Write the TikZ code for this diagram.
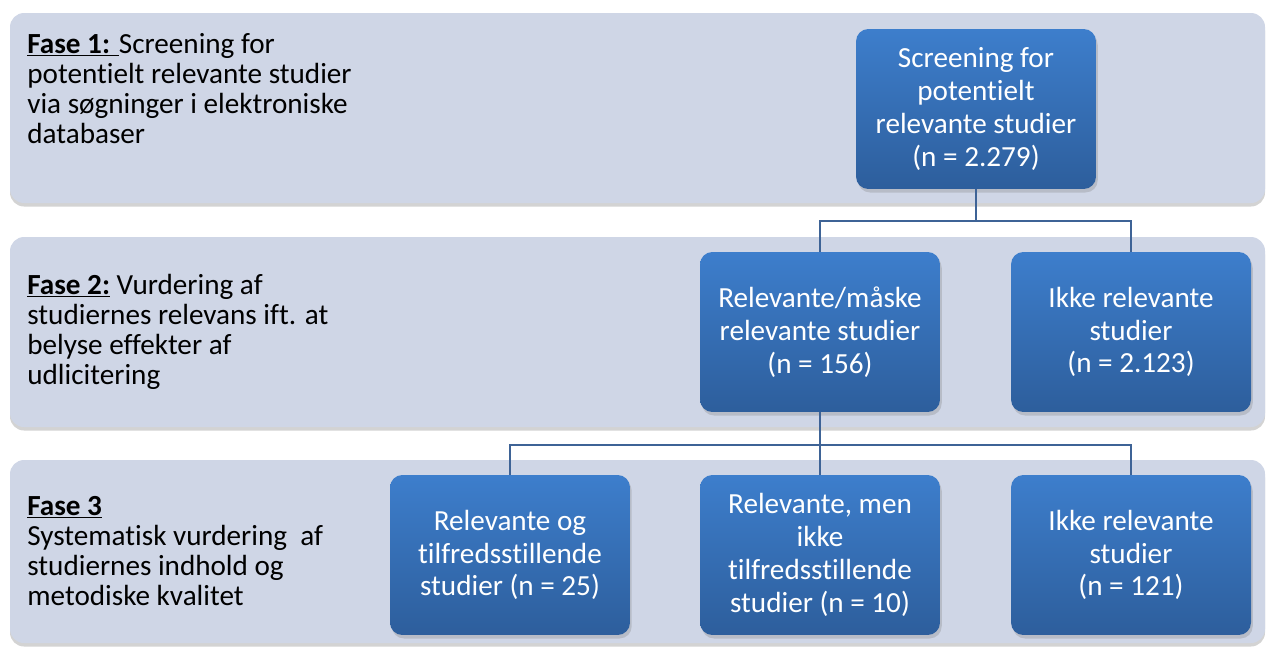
\documentclass[tikz,border=0pt]{standalone}
\usepackage{fontspec}
\setmainfont{Carlito}[Ligatures=NoCommon]
\usepackage{xcolor}
\usepackage{tikz}
\usetikzlibrary{shadows, positioning}
\def\boxw{4.8cm}
\def\boxh{3.2cm}
\definecolor{bandfill}{RGB}{207,214,230}
\definecolor{boxtop}{RGB}{61,126,204}
\definecolor{boxbot}{RGB}{45,94,156}
\definecolor{linkcol}{RGB}{62,99,150}

\begin{document}
\begin{tikzpicture}[x=0.02cm, y=-0.02cm]
    \tikzstyle{band}=[fill=bandfill, rounded corners=8pt, drop shadow={shadow xshift=0pt, shadow yshift=-2pt, opacity=0.35}]
    \tikzstyle{stage}=[rectangle, rounded corners=7pt, top color=boxtop, bottom color=boxbot, text=white, minimum width=\boxw, minimum height=\boxh, inner sep=0pt, align=center, font=\fontsize{16.6}{18.7}\selectfont, drop shadow={shadow xshift=1pt, shadow yshift=-2pt, opacity=0.3}]
    \tikzstyle{phase}=[anchor=base west, inner sep=0pt, text width=7.2cm, align=flush left, font=\fontsize{16.6}{17.1}\selectfont]
    \tikzstyle{link}=[draw=linkcol, line width=1.1pt]

    \useasboundingbox (0,0) rectangle (1266,646);

    % Draw the phase bands
    \foreach \name / \top / \bot in {1/13/203, 2/237/427, 3/460/643}
        \path[band] (10,\top) rectangle (1265,\bot);

    % Phase descriptions
    \node[phase] (P-1) at (27,53) {\underline{\textbf{Fase 1:} }Screening for\\potentielt relevante studier\\via søgninger i elektroniske\\databaser};
    \node[phase] (P-2) at (27,294) {\underline{\textbf{Fase 2:}} Vurdering af\\studiernes relevans ift. at\\belyse effekter af\\udlicitering};
    \node[phase] (P-3) at (27,515) {\underline{\textbf{Fase 3}}\\Systematisk vurdering\ \ af\\studiernes indhold og\\metodiske kvalitet};

    % Draw the study boxes
    \node[stage] (S) at (976,109) {Screening for\\potentielt\\relevante studier\\(n = 2.279)};
    \node[stage] (R-1) at (820,332) {Relevante/måske\\relevante studier\\(n = 156)};
    \node[stage] (R-2) at (1131,332) {Ikke relevante\\studier\\(n = 2.123)};
    \node[stage] (K-1) at (510,555) {Relevante og\\tilfredsstillende\\studier (n = 25)};
    \node[stage] (K-2) at (820,555) {Relevante, men\\ikke\\tilfredsstillende\\studier (n = 10)};
    \node[stage] (K-3) at (1131,555) {Ikke relevante\\studier\\(n = 121)};

    % Junctions of the tree
    \coordinate (J-1) at (976,221);
    \coordinate (J-2) at (820,445);

    % Connect the boxes
    \draw[link] (S.south) -- (J-1) -| (R-1.north);
    \draw[link] (J-1) -| (R-2.north);
    \draw[link] (R-1.south) -- (J-2) -| (K-1.north);
    \draw[link] (J-2) -| (K-3.north);
    \draw[link] (J-2) -- (K-2.north);

\end{tikzpicture}
\end{document}
